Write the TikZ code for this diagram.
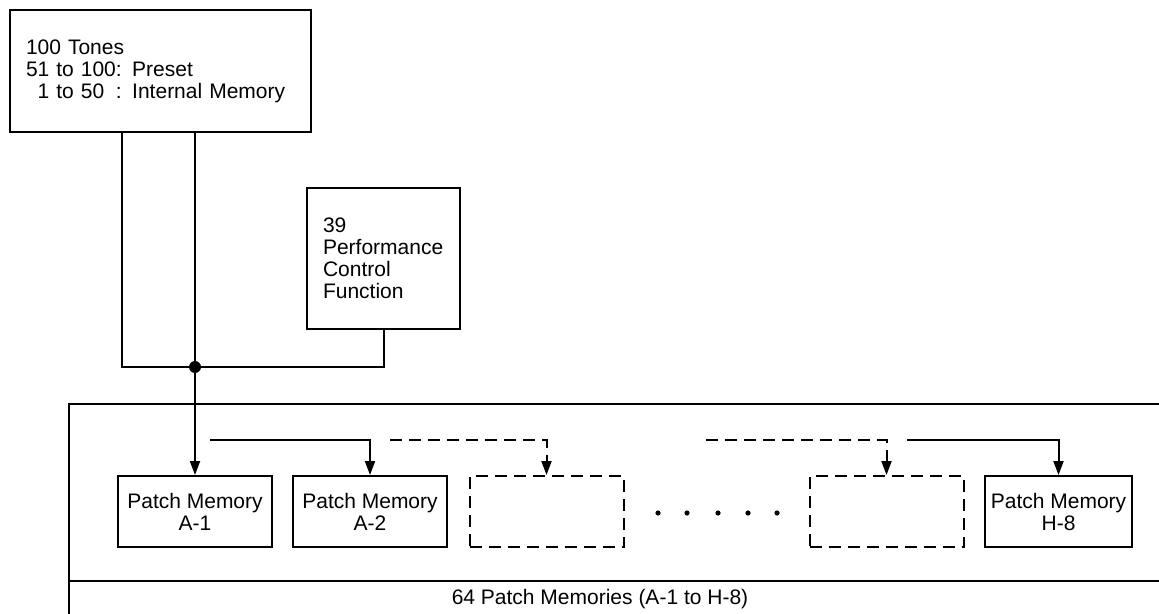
\documentclass[tikz,border=0pt]{standalone}
\usepackage{fontspec}
\setmainfont{Liberation Sans}
\usetikzlibrary{arrows.meta}
\tikzset{
    every node/.style={font=\fontsize{10.5}{11}\selectfont},
    LN/.style ={line width=1pt},
    AR/.style ={LN,-{Triangle[length=7pt,width=5pt]}},
    DA/.style ={dash pattern=on 6pt off 3.5pt},
    RA1/.style ={rectangle,draw,LN,minimum width=77pt,minimum height=35.5pt,align=center,inner sep=1pt},
    RA2/.style ={RA1,DA},
    RA3/.style ={rectangle,draw,LN,align=left,inner xsep=8pt}}

\begin{document}
\begin{tikzpicture}[x=0.5pt,y=-0.5pt]
        \useasboundingbox (0,0) rectangle (1159,614);
        \node[RA3,minimum height=61pt,text width=134.5pt] (tones) at (160.5,71)
            {100 Tones\\51 to 100: Preset\\\phantom{5}1 to 50\phantom{0}: Internal Memory};
        \node[RA3,minimum height=70.5pt,text width=60.5pt] (perf) at (383.5,258.5)
            {39\\Performance\\Control\\Function\\[2pt]};
        \node[RA1] (pA1) at (195,511.5) {Patch Memory\\A-1};
        \node[RA1] (pA2) at (370,511.5) {Patch Memory\\A-2};
        \node[RA2] (pX1) at (546.5,511.5) {};
        \node[RA2] (pX2) at (886.5,511.5) {};
        \node[RA1,minimum width=73.5pt] (pH8) at (1058.5,511.5) {Patch Memory\\H-8};
        \node (lbl) at (600,599) {64 Patch Memories (A-1 to H-8)};
        \coordinate (tL) at (122,0);
        \coordinate (jn) at (195,367);
        \coordinate (s1) at (210,440);
        \coordinate (s2) at (390,440);
        \coordinate (s3) at (706,440);
        \coordinate (s4) at (907,440);
        \draw[LN] (69,614) -- (69,404) -- (1159,404);
        \draw[LN] (69,581) -- (1159,581);
        \draw[LN] (tones.south -| tL) |- (jn) -| (perf.south);
        \draw[AR] (tones.south -| pA1.north) -- (pA1.north);
        \fill (jn) circle (3pt);
        \draw[AR] (s1) -| (pA2.north);
        \draw[AR,DA] (s2) -| (pX1.north);
        \draw[AR,DA] (s3) -| (pX2.north);
        \draw[AR] (s4) -| (pH8.north);
        \foreach \x in {658,687,718,748,777}
            \fill (\x,513) circle (1.3pt);
    \end{tikzpicture}
\end{document}
